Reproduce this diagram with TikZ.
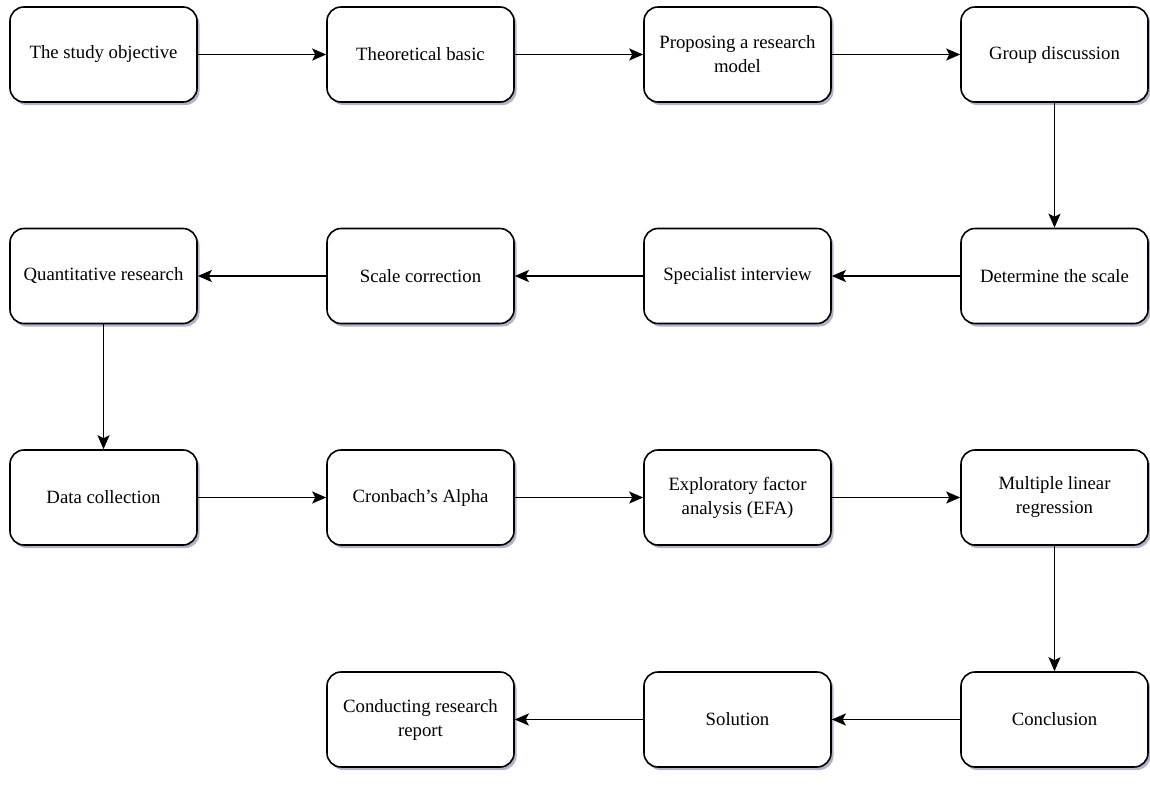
\documentclass[tikz,border=0pt]{standalone}
\usepackage{fontspec}
\setmainfont{Liberation Serif}
\usetikzlibrary{arrows.meta,shadows}
\begin{document}
\begin{tikzpicture}[x=1pt,y=-1pt,
  stepbox/.style={draw=black, line width=1.6pt, fill=white, rounded corners=14pt,
    minimum width=187pt, minimum height=95pt, inner sep=4pt, align=center,
    font=\fontsize{18.75}{24}\selectfont,
    drop shadow={shadow xshift=2.5pt, shadow yshift=-3pt, fill=black!70!blue, opacity=0.3}},
  flow/.style={line width=1.8pt, -{Stealth[length=14pt,width=12pt,inset=3pt]}}]
\useasboundingbox (0,0) rectangle (1150,785);
% row 1
\node[stepbox] (a1) at (103.5,54.5) {The study objective};
\node[stepbox] (a2) at (420.5,54.5) {Theoretical basic};
\node[stepbox] (a3) at (737.5,54.5) {Proposing a research\\model};
\node[stepbox] (a4) at (1054.5,54.5) {Group discussion};
% row 2
\node[stepbox] (b4) at (1054.5,276) {Determine the scale};
\node[stepbox] (b3) at (737.5,276) {Specialist interview};
\node[stepbox] (b2) at (420.5,276) {Scale correction};
\node[stepbox] (b1) at (103.5,276) {Quantitative research};
% row 3
\node[stepbox] (c1) at (103.5,497.5) {Data collection};
\node[stepbox] (c2) at (420.5,497.5) {Cronbach's Alpha};
\node[stepbox] (c3) at (737.5,497.5) {Exploratory factor\\analysis (EFA)};
\node[stepbox] (c4) at (1054.5,497.5) {Multiple linear\\regression};
% row 4
\node[stepbox] (d4) at (1054.5,719.5) {Conclusion};
\node[stepbox] (d3) at (737.5,719.5) {Solution};
\node[stepbox] (d2) at (420.5,719.5) {Conducting research\\report};
% connectors
\draw[flow] (a1) -- (a2);
\draw[flow] (a2) -- (a3);
\draw[flow] (a3) -- (a4);
\draw[flow] (a4) -- (b4);
\draw[flow] (b4) -- (b3);
\draw[flow] (b3) -- (b2);
\draw[flow] (b2) -- (b1);
\draw[flow] (b1) -- (c1);
\draw[flow] (c1) -- (c2);
\draw[flow] (c2) -- (c3);
\draw[flow] (c3) -- (c4);
\draw[flow] (c4) -- (d4);
\draw[flow] (d4) -- (d3);
\draw[flow] (d3) -- (d2);
\end{tikzpicture}
\end{document}
